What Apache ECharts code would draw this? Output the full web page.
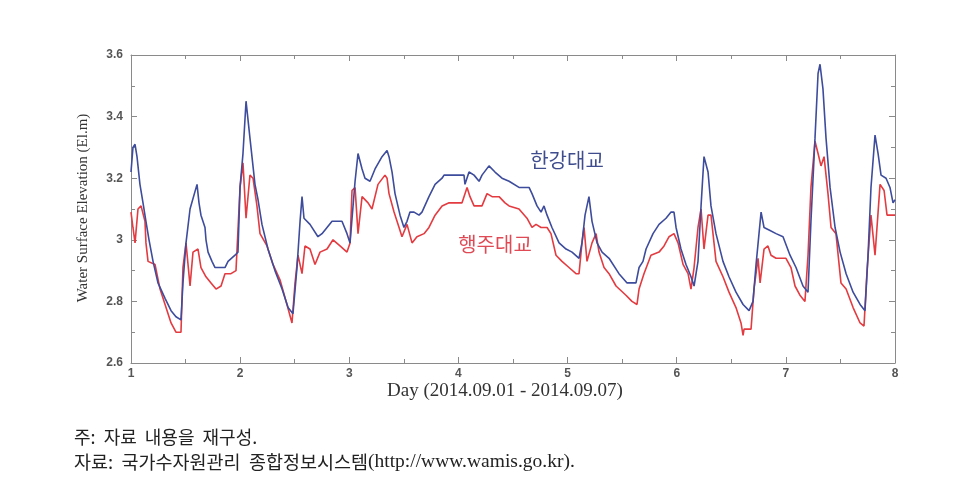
<!DOCTYPE html>
<html>
<head>
<meta charset="utf-8">
<script src="https://cdn.jsdelivr.net/npm/echarts@6/dist/echarts.min.js"></script>
<style>
html,body{margin:0;padding:0;background:#fff;}
#c{width:980px;height:500px;}
</style>
</head>
<body>
<div id="c"></div>
<script>
// 한강대교 (blue) : [day, elevation]
var hangangDays = [1.000,1.018,1.037,1.055,1.082,1.110,1.137,1.165,1.202,1.247,1.312,1.367,1.412,1.458,1.476,1.504,1.541,1.605,1.623,1.641,1.678,1.687,1.706,1.742,1.770,1.861,1.889,1.953,1.980,1.999,2.026,2.054,2.090,2.136,2.164,2.200,2.255,2.319,2.384,2.439,2.484,2.521,2.549,2.567,2.585,2.640,2.713,2.750,2.796,2.842,2.933,2.979,3.007,3.053,3.080,3.117,3.144,3.190,3.236,3.300,3.346,3.364,3.392,3.419,3.465,3.501,3.529,3.556,3.593,3.639,3.666,3.730,3.786,3.850,3.868,4.051,4.060,4.097,4.143,4.189,4.216,4.280,4.335,4.399,4.464,4.555,4.647,4.674,4.720,4.757,4.784,4.812,4.857,4.922,4.986,5.041,5.105,5.132,5.160,5.196,5.224,5.270,5.316,5.380,5.471,5.545,5.627,5.655,5.691,5.719,5.783,5.838,5.902,5.948,5.975,5.994,6.039,6.085,6.131,6.159,6.195,6.223,6.250,6.287,6.314,6.360,6.424,6.479,6.543,6.608,6.663,6.699,6.727,6.754,6.773,6.800,6.855,6.910,6.974,7.038,7.093,7.157,7.203,7.230,7.267,7.295,7.313,7.340,7.368,7.405,7.451,7.497,7.552,7.616,7.680,7.725,7.753,7.780,7.817,7.845,7.872,7.918,7.954,7.982,8.000];
var hangangLevel = [3.22,3.30,3.31,3.27,3.18,3.12,3.06,3.00,2.93,2.86,2.81,2.77,2.75,2.74,2.86,2.99,3.10,3.18,3.12,3.08,3.04,3.00,2.96,2.93,2.91,2.91,2.93,2.95,2.96,3.17,3.28,3.45,3.33,3.18,3.13,3.05,2.97,2.90,2.84,2.78,2.76,2.91,3.06,3.14,3.07,3.05,3.01,3.02,3.04,3.06,3.06,3.02,2.99,3.19,3.28,3.23,3.20,3.19,3.23,3.27,3.29,3.27,3.22,3.15,3.08,3.04,3.06,3.09,3.09,3.08,3.09,3.14,3.18,3.20,3.21,3.21,3.18,3.22,3.21,3.19,3.21,3.24,3.22,3.20,3.19,3.17,3.17,3.15,3.11,3.09,3.11,3.08,3.04,2.99,2.97,2.96,2.94,2.99,3.08,3.14,3.06,2.99,2.96,2.94,2.89,2.86,2.86,2.91,2.93,2.97,3.02,3.05,3.07,3.09,3.09,3.04,2.97,2.92,2.88,2.85,2.93,3.11,3.27,3.22,3.11,3.02,2.93,2.88,2.83,2.79,2.77,2.80,2.92,3.02,3.09,3.04,3.03,3.02,3.01,2.95,2.91,2.85,2.83,3.06,3.33,3.54,3.57,3.49,3.33,3.17,3.04,2.96,2.89,2.83,2.79,2.77,2.95,3.17,3.34,3.28,3.21,3.20,3.17,3.12,3.13];

// 행주대교 (red) : [day, elevation]
var haengjuDays = [1.000,1.018,1.037,1.064,1.092,1.128,1.137,1.156,1.220,1.266,1.312,1.367,1.412,1.458,1.476,1.504,1.541,1.568,1.614,1.641,1.687,1.733,1.779,1.825,1.861,1.916,1.962,1.999,2.026,2.054,2.090,2.118,2.154,2.182,2.246,2.301,2.365,2.429,2.475,2.503,2.530,2.567,2.594,2.640,2.686,2.732,2.796,2.851,2.915,2.979,3.007,3.025,3.053,3.080,3.117,3.172,3.208,3.263,3.327,3.346,3.364,3.410,3.456,3.483,3.529,3.575,3.620,3.685,3.730,3.786,3.850,3.914,4.033,4.079,4.106,4.143,4.216,4.262,4.308,4.372,4.427,4.464,4.555,4.628,4.674,4.711,4.757,4.812,4.848,4.894,4.949,5.013,5.077,5.105,5.132,5.151,5.178,5.224,5.261,5.288,5.334,5.380,5.444,5.535,5.590,5.636,5.655,5.700,5.764,5.838,5.884,5.930,5.975,6.012,6.058,6.104,6.131,6.159,6.195,6.223,6.250,6.287,6.314,6.360,6.424,6.479,6.543,6.589,6.608,6.617,6.681,6.708,6.745,6.764,6.800,6.836,6.864,6.910,7.001,7.047,7.084,7.129,7.175,7.203,7.230,7.267,7.295,7.322,7.350,7.386,7.414,7.459,7.505,7.552,7.616,7.680,7.716,7.744,7.780,7.817,7.845,7.863,7.900,7.927,8.000];
var haengjuLevel = [3.09,3.04,2.99,3.10,3.11,3.06,2.99,2.93,2.92,2.84,2.79,2.73,2.70,2.70,2.91,2.99,2.85,2.96,2.97,2.91,2.88,2.86,2.84,2.85,2.89,2.89,2.90,3.17,3.25,3.07,3.21,3.20,3.11,3.02,2.98,2.92,2.87,2.79,2.73,2.86,2.95,2.89,2.98,2.97,2.92,2.96,2.97,3.00,2.98,2.96,2.99,3.16,3.17,3.02,3.14,3.12,3.10,3.18,3.21,3.20,3.15,3.09,3.04,3.01,3.05,2.99,3.01,3.02,3.04,3.08,3.11,3.12,3.12,3.17,3.14,3.11,3.11,3.15,3.14,3.14,3.12,3.11,3.10,3.07,3.04,3.05,3.04,3.04,3.02,2.95,2.93,2.91,2.89,2.89,2.99,3.04,2.93,2.99,3.02,2.96,2.91,2.89,2.85,2.82,2.80,2.79,2.84,2.89,2.95,2.96,2.98,3.01,3.02,2.99,2.92,2.89,2.84,2.91,3.04,3.10,2.97,3.08,3.08,2.93,2.88,2.83,2.78,2.73,2.69,2.71,2.71,2.84,2.94,2.86,2.97,2.98,2.95,2.94,2.94,2.91,2.85,2.82,2.80,2.95,3.17,3.32,3.28,3.24,3.27,3.15,3.04,3.02,2.86,2.84,2.78,2.73,2.72,2.90,3.08,2.95,3.09,3.18,3.16,3.08,3.08];

var xTickLabels = ['1','2','3','4','5','6','7','8'];
var yTickLabels = ['2.6','2.8','3','3.2','3.4','3.6'];
var seriesNames = ['한강대교','행주대교'];
var xTitle = 'Day (2014.09.01 - 2014.09.07)';
var yTitle = 'Water Surface Elevation (El.m)';
var note1 = '주:  자료  내용을  재구성.';
var note2Kor = '자료:  국가수자원관리  종합정보시스템';
var note2Url = '(http://www.wamis.go.kr).';

function pairs(xs, ys){ return xs.map(function(x,i){ return [x, ys[i]]; }); }

var chart = echarts.init(document.getElementById('c'), null, {renderer:'canvas'});
var lineC = '#8a8a8a';
var lab = {color:'#555', fontSize:12, fontWeight:'bold', fontFamily:'Liberation Sans, Arial'};
function xAx(pos, showLabel){
  return {
    type:'value', position:pos, min:1, max:8, interval:1,
    axisLine:{show:true, onZero:false, lineStyle:{color:lineC, width:1}},
    axisTick:{show:true, inside:true, length:6, lineStyle:{color:lineC}},
    minorTick:{show:true, splitNumber:2, length:4, lineStyle:{color:lineC}},
    splitLine:{show:false},
    axisLabel:{show:showLabel, margin:5, formatter:function(v){ var i=Math.round(v)-1; return xTickLabels[i]||''; }, color:lab.color, fontSize:lab.fontSize, fontWeight:lab.fontWeight, fontFamily:lab.fontFamily}
  };
}
function yAx(pos, showLabel){
  return {
    type:'value', position:pos, min:2.6, max:3.6, interval:0.2,
    axisLine:{show:true, onZero:false, lineStyle:{color:lineC, width:1}},
    axisTick:{show:true, inside:true, length:6, lineStyle:{color:lineC}},
    minorTick:{show:true, splitNumber:2, length:4, lineStyle:{color:lineC}},
    splitLine:{show:false},
    axisLabel:{show:showLabel, margin:8, formatter:function(v){ var i=Math.round((v-2.6)/0.2); return yTickLabels[i]||''; }, color:lab.color, fontSize:lab.fontSize, fontWeight:lab.fontWeight, fontFamily:lab.fontFamily}
  };
}

chart.setOption({
  animation:false,
  backgroundColor:'#fff',
  grid:{left:131, right:85, top:55, bottom:137},
  xAxis:[xAx('bottom', true), xAx('top', false)],
  yAxis:[yAx('left', true), yAx('right', false)],
  series:[
    {name:seriesNames[0], type:'line', data:pairs(hangangDays, hangangLevel), showSymbol:false, lineStyle:{color:'#3d4c9c', width:1.6}, itemStyle:{color:'#3d4c9c'}, z:3},
    {name:seriesNames[1], type:'line', data:pairs(haengjuDays, haengjuLevel), showSymbol:false, lineStyle:{color:'#e33b40', width:1.6}, itemStyle:{color:'#e33b40'}, z:2}
  ],
  graphic:[
    {type:'text', x:505, y:391, style:{text:xTitle, fill:'#333', font:'19px "Liberation Serif", serif', textAlign:'center', textVerticalAlign:'middle'}},
    {type:'text', x:83, y:208, rotation:Math.PI/2, style:{text:yTitle, fill:'#333', font:'15px "Liberation Serif", serif', textAlign:'center', textVerticalAlign:'middle'}},
    {type:'text', x:567, y:160, style:{text:seriesNames[0], fill:'#3f4d8e', font:'20px "Noto Sans CJK KR", sans-serif', textAlign:'center', textVerticalAlign:'middle'}},
    {type:'text', x:495, y:244, style:{text:seriesNames[1], fill:'#e04a55', font:'20px "Noto Sans CJK KR", sans-serif', textAlign:'center', textVerticalAlign:'middle'}},
    {type:'text', x:74, y:437, style:{text:note1, fill:'#222', font:'18px "Noto Sans CJK KR", sans-serif', textAlign:'left', textVerticalAlign:'middle'}},
    {type:'text', x:74, y:462, style:{text:'{k|' + note2Kor + '}{u|' + note2Url + '}', textAlign:'left', textVerticalAlign:'middle',
      rich:{k:{fill:'#222', font:'18.5px "Noto Sans CJK KR", sans-serif'}, u:{fill:'#222', font:'19.5px "Liberation Serif", serif'}}}}
  ]
});
</script>
</body>
</html>
